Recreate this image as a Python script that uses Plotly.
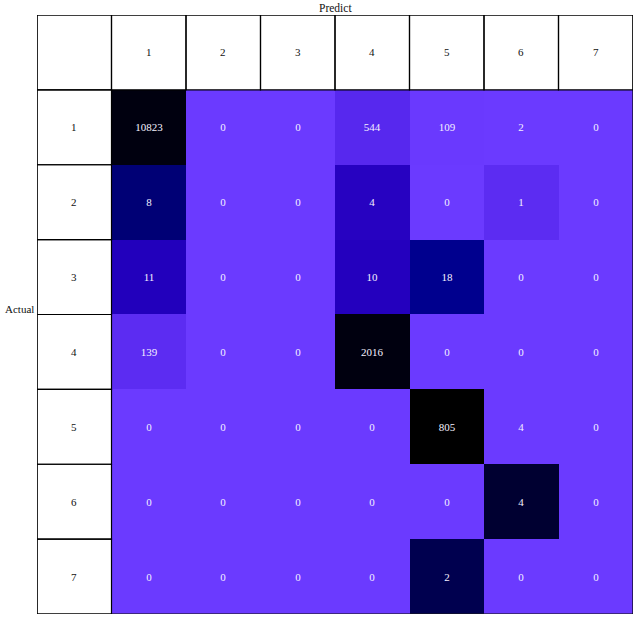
import plotly.graph_objects as go

# Class labels (predicted columns / actual rows)
labels = ["1", "2", "3", "4", "5", "6", "7"]

# Confusion-matrix counts (rows = Actual, columns = Predict)
counts = [
    [10823, 0, 0, 544, 109, 2, 0],
    [8, 0, 0, 4, 0, 1, 0],
    [11, 0, 0, 10, 18, 0, 0],
    [139, 0, 0, 2016, 0, 0, 0],
    [0, 0, 0, 0, 805, 4, 0],
    [0, 0, 0, 0, 0, 4, 0],
    [0, 0, 0, 0, 2, 0, 0],
]

# Colour intensity of each cell (0 = light, 1 = darkest)
shade = [
    [0.94, 0, 0, 0.08, 0.005, 0.0, 0],
    [0.57, 0, 0, 0.26, 0, 0.06, 0],
    [0.28, 0, 0, 0.27, 0.47, 0, 0],
    [0.06, 0, 0, 0.94, 0, 0, 0],
    [0, 0, 0, 0, 1.0, 0, 0],
    [0, 0, 0, 0, 0, 0.82, 0],
    [0, 0, 0, 0, 0.71, 0, 0],
]

colorscale = [
    [0.0, "rgb(107,58,255)"],
    [0.07, "rgb(90,42,240)"],
    [0.27, "rgb(36,0,190)"],
    [0.46, "rgb(0,0,144)"],
    [0.6, "rgb(0,0,110)"],
    [0.94, "rgb(0,0,15)"],
    [1.0, "rgb(0,0,0)"],
]

FONT = "Liberation Serif, Times New Roman, serif"
n = len(labels)
idx = list(range(n))

fig = go.Figure()
fig.add_trace(go.Heatmap(
    x=idx, y=idx, z=shade, text=counts, texttemplate="%{text}",
    textfont=dict(family=FONT, size=11, color="#f4f0ff"),
    colorscale=colorscale, zmin=0, zmax=1, showscale=False,
    hoverinfo="skip", xgap=0, ygap=0,
))

shapes = []
annotations = []
line = dict(color="black", width=1.2)
# header row and header column cells
shapes.append(dict(type="rect", xref="x", yref="y", x0=-1.5, x1=-0.5, y0=-1.5, y1=-0.5, line=line))
for i, lab in enumerate(labels):
    shapes.append(dict(type="rect", xref="x", yref="y", x0=i - 0.5, x1=i + 0.5,
                       y0=-1.5, y1=-0.5, line=line))
    shapes.append(dict(type="rect", xref="x", yref="y", x0=-1.5, x1=-0.5,
                       y0=i - 0.5, y1=i + 0.5, line=line))
    annotations.append(dict(x=i, y=-1, xref="x", yref="y", text=lab, showarrow=False,
                            font=dict(family=FONT, size=11, color="#111")))
    annotations.append(dict(x=-1, y=i, xref="x", yref="y", text=lab, showarrow=False,
                            font=dict(family=FONT, size=11, color="#111")))
# outer border
shapes.append(dict(type="rect", xref="x", yref="y", x0=-1.5, x1=n - 0.5,
                   y0=-1.5, y1=n - 0.5, line=line))

annotations.append(dict(x=0.5, y=1, xref="paper", yref="paper", text="Predict",
                        showarrow=False, xanchor="center", yanchor="bottom",
                        yshift=-1,
                        font=dict(family=FONT, size=11.5, color="#111")))
annotations.append(dict(x=0, y=0.5, xref="paper", yref="paper", text="Actual",
                        showarrow=False, xanchor="right", yanchor="middle",
                        xshift=-1, yshift=6,
                        font=dict(family=FONT, size=11, color="#111")))

fig.update_layout(
    width=639, height=622,
    margin=dict(l=37, r=6, t=15, b=8),
    paper_bgcolor="white", plot_bgcolor="white",
    xaxis=dict(range=[-1.5, n - 0.5], visible=False, fixedrange=True),
    yaxis=dict(range=[n - 0.5, -1.5], visible=False, fixedrange=True),
    shapes=shapes, annotations=annotations,
    showlegend=False,
)

fig.write_html("out.html",
               config={"displayModeBar": False, "staticPlot": True},
               post_script="document.body.style.margin='0px';document.body.style.overflow='hidden';")
